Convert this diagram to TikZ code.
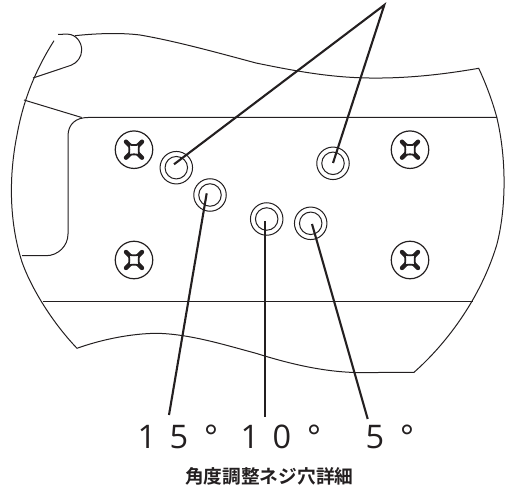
\documentclass[tikz,border=0pt]{standalone}
\usepackage{fontspec}
\newfontfamily\cjkb{Noto Sans CJK JP Bold}
\newfontfamily\latn{Open Sans}
\definecolor{ink}{HTML}{231F20}
\newcommand{\gl}[1]{\makebox[32pt][c]{#1}}
\tikzset{
  x=1pt,y=-1pt,
  edge/.style={draw=ink,line width=1pt},
  leader/.style={draw=ink,line width=2.1pt},
  holeouter/.style={circle,draw=ink,line width=1pt,minimum size=32.5pt,inner sep=0pt,fill=white},
  holeinner/.style={circle,draw=ink,line width=1pt,minimum size=22.5pt,inner sep=0pt},
  screwhead/.style={circle,draw=ink,line width=1.2pt,minimum size=37.5pt,inner sep=0pt},
  angletext/.style={text=ink,inner sep=0pt,anchor=base,font=\latn\fontsize{32.5}{32.5}\selectfont},
  captiontext/.style={text=ink,inner sep=0pt,font=\cjkb\fontsize{18.7}{18.7}\selectfont}
}
\newcommand{\crossmark}[1]{%
  \begin{scope}[shift={(#1)}]
    \draw[ink,line width=4.4pt,line cap=round] (-8,-8)--(8,8) (-8,8)--(8,-8);
    \draw[ink,fill=white,line width=1.8pt] (-5.4,-5.4) .. controls (-2,-4.4) and (2,-4.4) .. (5.4,-5.4)
       .. controls (4.4,-2) and (4.4,2) .. (5.4,5.4)
       .. controls (2,4.4) and (-2,4.4) .. (-5.4,5.4)
       .. controls (-4.4,2) and (-4.4,-2) .. (-5.4,-5.4) -- cycle;
  \end{scope}}
\begin{document}
\begin{tikzpicture}
\useasboundingbox (0,0) rectangle (511,489);
% body outline
\draw[edge] (54,40.7) .. controls (38,66) and (24,96) .. (17,135)
  .. controls (8,180) and (10,225) .. (22,262)
  .. controls (30,285) and (50,320) .. (77,348.3)
  .. controls (100,340) and (130,333.5) .. (157,333.3)
  .. controls (190,334) and (225,345) .. (256,353.3)
  .. controls (290,364) and (325,372.3) .. (360,372.6)
  -- (414,372.3)
  .. controls (445,345) and (480,300) .. (496.7,245)
  .. controls (506,210) and (507,160) .. (496.7,117)
  .. controls (492,100) and (486,84) .. (478.7,68.3)
  .. controls (440,75) and (405,78.5) .. (369,78)
  .. controls (330,77.5) and (295,71) .. (256,63)
  .. controls (215,52) and (175,41) .. (140,35)
  .. controls (120,32.5) and (95,33.5) .. (75,35.7);
% thumb notch
\draw[edge] (58,34.3) -- (68,34.2) .. controls (76,34.5) and (81.7,42) .. (81.7,50)
  .. controls (81.7,57) and (77,63) .. (71,65.3) -- (33,78);
% panel lines
\draw[edge] (24,100) -- (81.7,117.5);
\draw[edge] (497,117.5) -- (88,117.5) .. controls (76,117.5) and (68,124) .. (68,136)
  -- (68,234) .. controls (68,246) and (58,255.7) .. (46,255.7) -- (22,255.7);
\draw[edge] (43,301.7) -- (473,301.7);
% screws
\node[screwhead] (s1) at (134,149.7) {};
\node[screwhead] (s2) at (410,149.7) {};
\node[screwhead] (s3) at (134,260) {};
\node[screwhead] (s4) at (410,260) {};
\crossmark{s1}\crossmark{s2}\crossmark{s3}\crossmark{s4}
% holes
\foreach \n/\p in {a/{176.3,167.7},b/{210,195},c/{333,163.3},d/{266.7,219},e/{310.7,223.3}}{
  \node[holeouter] (o\n) at (\p) {};
  \node[holeinner] (i\n) at (\p) {};
}
% leader ends
\coordinate (apex) at (384.3,5);
\coordinate (ea) at (174,164.3);
\coordinate (ec) at (333,163);
\coordinate (eb) at (206.7,193.3);
\coordinate (ed) at (265.3,221.3);
\coordinate (ee) at (312,224);
\coordinate (lb) at (169,415);
\coordinate (ld) at (265.3,416.7);
\coordinate (le) at (367.7,419);
\draw[leader,line join=miter] (ea) -- (apex) -- (ec);
\draw[leader] (eb) -- (lb);
\draw[leader] (ed) -- (ld);
\draw[leader] (ee) -- (le);
% labels
\node[angletext] (t15) at (179,448.5) {\gl{1}\gl{5}\gl{°}};
\node[angletext] (t10) at (282,448.5) {\gl{1}\gl{0}\gl{°}};
\node[angletext] (t5) at (391,448.5) {\gl{5}\gl{°}};
\node[captiontext] (cap) at (269.3,476.7) {角度調整ネジ穴詳細};
\end{tikzpicture}
\end{document}
